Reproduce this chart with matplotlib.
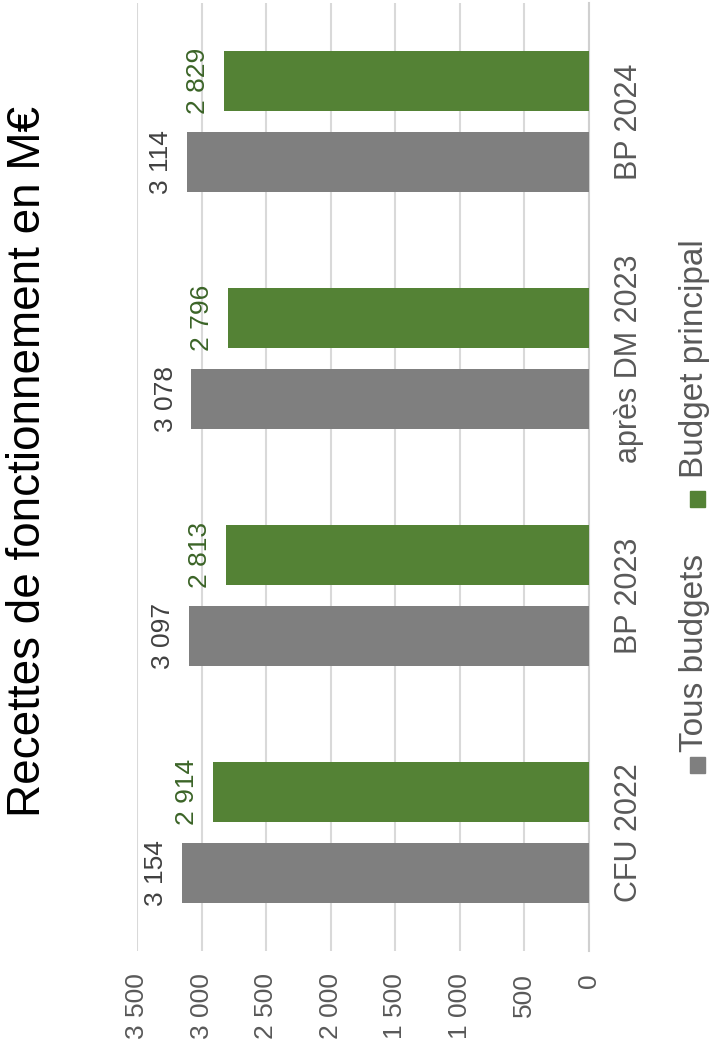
import numpy as np
import matplotlib
matplotlib.use('Agg')
import matplotlib.pyplot as plt
from matplotlib.patches import Rectangle

categories = ["CFU 2022", "BP 2023", "après DM 2023", "BP 2024"]
tous_budgets = [3154, 3097, 3078, 3114]
budget_principal = [2914, 2813, 2796, 2829]
x_ticks = [0, 500, 1000, 1500, 2000, 2500, 3000, 3500]
series_names = ["Tous budgets", "Budget principal"]

GRAY = "#7f7f7f"
GREEN = "#548235"
TXT = "#595959"


def fmt(v):
    return f"{v:,}".replace(",", " ")


plt.rcParams['font.family'] = ['Liberation Sans', 'DejaVu Sans']

W, H = 714, 1052
fig = plt.figure(figsize=(W / 100, H / 100), dpi=100)
ax = fig.add_axes([137 / W, 1 - 951 / H, (589 - 137) / W, (951 - 3) / H])

y = np.arange(len(categories))
h = 0.253
off = 0.17
ax.barh(y - off, tous_budgets, height=h, color=GRAY, zorder=3)
ax.barh(y + off, budget_principal, height=h, color=GREEN, zorder=3)

for yi, v in zip(y - off, tous_budgets):
    ax.annotate(fmt(v), (v, yi), xytext=(-10, 0), textcoords='offset points',
                rotation=90, ha='right', va='center', fontsize=19, color="#404040")
for yi, v in zip(y + off, budget_principal):
    ax.annotate(fmt(v), (v, yi), xytext=(-10, 0), textcoords='offset points',
                rotation=90, ha='right', va='center', fontsize=19, color="#3b6427")

ax.set_xlim(3500, 0)
ax.set_ylim(-0.5, len(categories) - 0.5)

ax.set_xticks(x_ticks)
ax.set_xticklabels([fmt(t) for t in x_ticks], rotation=90, fontsize=19, color=TXT)
ax.tick_params(axis='x', length=0, pad=16)

ax.yaxis.tick_right()
ax.set_yticks(y)
ax.set_yticklabels(categories, rotation=90, va='center', fontsize=22, color=TXT)
ax.tick_params(axis='y', length=0, pad=18)

ax.xaxis.grid(True, color="#d9d9d9", linewidth=1.5, zorder=0)
ax.set_axisbelow(True)
for s in ['top', 'left', 'bottom']:
    ax.spines[s].set_visible(False)
ax.spines['right'].set_color("#d0d0d0")
ax.spines['right'].set_linewidth(1.5)

# title (chart is drawn rotated)
fig.text(28 / W, 1 - 462 / H, "Recettes de fonctionnement en M€", rotation=90,
         ha='center', va='center', fontsize=33, color="black")

# legend, drawn by hand since it is rotated
fig.add_artist(Rectangle((690 / W, 1 - 773 / H), 15 / W, 16 / H,
                         transform=fig.transFigure, color=GRAY))
fig.text(695 / W, 1 - 752 / H, series_names[0], rotation=90, ha='center', va='bottom',
         fontsize=24, color=TXT)
fig.add_artist(Rectangle((690 / W, 1 - 507 / H), 15 / W, 16 / H,
                         transform=fig.transFigure, color=GREEN))
fig.text(695 / W, 1 - 478 / H, series_names[1], rotation=90, ha='center', va='bottom',
         fontsize=24, color=TXT)

fig.savefig("out.png", dpi=100)
